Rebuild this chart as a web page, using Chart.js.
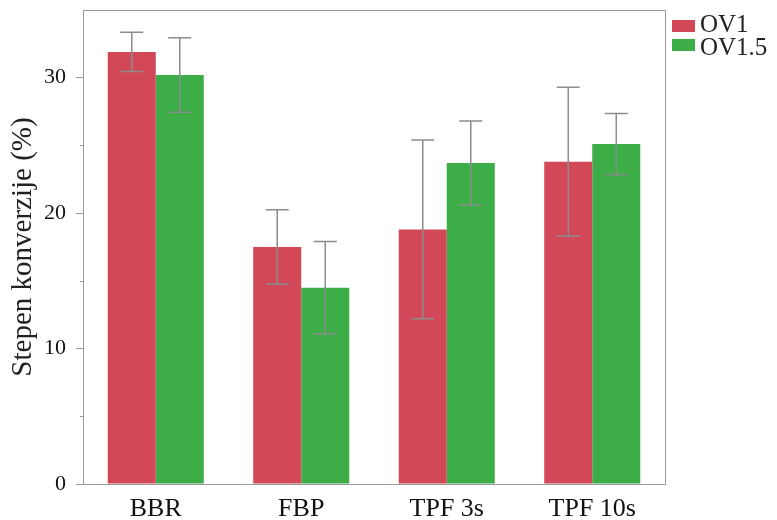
<!DOCTYPE html>
<html>
<head>
<meta charset="utf-8">
<script src="https://cdn.jsdelivr.net/npm/chart.js@4"></script>
<style>
html,body{margin:0;padding:0;background:#fff;}
#wrap{width:777px;height:520px;position:relative;}
</style>
</head>
<body>
<div id="wrap"><canvas id="c" width="777" height="520"></canvas></div>
<script>
const categories = ['BBR', 'FBP', 'TPF 3s', 'TPF 10s'];
const seriesNames = ['OV1', 'OV1.5'];
const ov1 = [31.9, 17.5, 18.8, 23.8];
const ov1Err = [1.45, 2.75, 6.6, 5.5];
const ov15 = [30.2, 14.5, 23.7, 25.1];
const ov15Err = [2.75, 3.4, 3.1, 2.25];
const majorTicks = [0, 10, 20, 30];
const minorTicks = [5, 15, 25];

const RED = 'rgb(211,72,89)';
const GREEN = 'rgb(61,173,72)';
const FONT = "'Liberation Serif', 'Times New Roman', serif";
const AXIS = '#9a9a9a';

const errs = [ov1Err, ov15Err];

const extras = {
  id: 'extras',
  beforeDraw(chart) {
    const ctx = chart.ctx;
    ctx.save();
    ctx.fillStyle = '#fff';
    ctx.fillRect(0, 0, chart.width, chart.height);
    ctx.restore();
  },
  afterDatasetsDraw(chart) {
    const ctx = chart.ctx;
    const y = chart.scales.y;
    const a = chart.chartArea;
    ctx.save();
    ctx.strokeStyle = '#8c8c8c';
    ctx.lineWidth = 1.5;
    chart.data.datasets.forEach((ds, di) => {
      const meta = chart.getDatasetMeta(di);
      meta.data.forEach((bar, i) => {
        const v = ds.data[i], e = errs[di][i];
        const x = bar.x;
        const yt = y.getPixelForValue(v + e);
        const yb = y.getPixelForValue(v - e);
        ctx.beginPath();
        ctx.moveTo(x, yt); ctx.lineTo(x, yb);
        ctx.moveTo(x - 11.5, yt); ctx.lineTo(x + 11.5, yt);
        ctx.moveTo(x - 11.5, yb); ctx.lineTo(x + 11.5, yb);
        ctx.stroke();
      });
    });
    ctx.strokeStyle = AXIS;
    ctx.lineWidth = 1;
    ctx.strokeRect(a.left + 0.5, a.top + 0.5, a.right - a.left, a.bottom - a.top);
    ctx.beginPath();
    minorTicks.forEach(t => {
      const py = Math.round(y.getPixelForValue(t)) + 0.5;
      ctx.moveTo(a.left - 3, py); ctx.lineTo(a.left, py);
    });
    ctx.stroke();
    ctx.font = "25px " + FONT;
    ctx.textBaseline = 'alphabetic';
    ctx.textAlign = 'left';
    const items = [[RED, 20, 32], [GREEN, 39, 55]];
    seriesNames.forEach((name, i) => {
      ctx.fillStyle = items[i][0];
      ctx.fillRect(672, items[i][1], 23, 12);
      ctx.fillStyle = '#222';
      ctx.fillText(name, 700, items[i][2]);
    });
    ctx.restore();
  }
};

new Chart(document.getElementById('c'), {
  type: 'bar',
  data: {
    labels: categories,
    datasets: [
      { label: seriesNames[0], data: ov1, backgroundColor: RED, borderWidth: 0 },
      { label: seriesNames[1], data: ov15, backgroundColor: GREEN, borderWidth: 0 }
    ]
  },
  options: {
    responsive: false,
    animation: false,
    layout: { padding: { top: 10, right: 112, left: 0, bottom: 0 } },
    plugins: { legend: { display: false }, tooltip: { enabled: false } },
    datasets: { bar: { barPercentage: 1, categoryPercentage: 0.66 } },
    scales: {
      x: {
        grid: { display: false, drawTicks: false },
        border: { display: true, color: AXIS },
        ticks: { color: '#111', font: { family: FONT, size: 26 }, padding: 10 },
        afterFit(s) { s.height = 36; s.paddingLeft = 0; s.paddingRight = 0; }
      },
      y: {
        min: 0, max: 35,
        afterBuildTicks(s) { s.ticks = majorTicks.map(v => ({ value: v })); },
        grid: { drawOnChartArea: false, tickLength: 7, color: AXIS },
        border: { display: true, color: AXIS },
        ticks: { color: '#111', font: { family: FONT, size: 22 }, padding: 10 },
        title: { display: true, text: 'Stepen konverzije (%)', color: '#222', font: { family: FONT, size: 29 }, padding: { top: 6, bottom: 0 } },
        afterFit(s) { s.width = 83; s.paddingTop = 0; s.paddingBottom = 0; }
      }
    }
  },
  plugins: [extras]
});
</script>
</body>
</html>
